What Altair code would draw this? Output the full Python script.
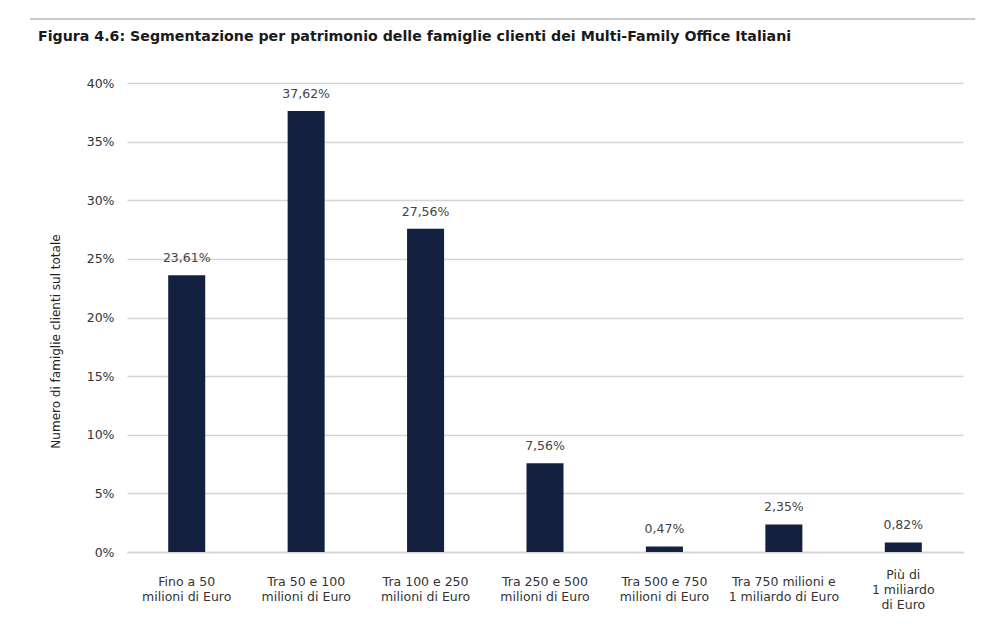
import altair as alt
import pandas as pd

categories = [
    "Fino a 50|milioni di Euro",
    "Tra 50 e 100|milioni di Euro",
    "Tra 100 e 250|milioni di Euro",
    "Tra 250 e 500|milioni di Euro",
    "Tra 500 e 750|milioni di Euro",
    "Tra 750 milioni e|1 miliardo di Euro",
    "Più di|1 miliardo|di Euro",
]
values = [23.61, 37.62, 27.56, 7.56, 0.47, 2.35, 0.82]
y_ticks = [0, 5, 10, 15, 20, 25, 30, 35, 40]

title_text = "Figura 4.6: Segmentazione per patrimonio delle famiglie clienti dei Multi-Family Office Italiani"
y_title = "Numero di famiglie clienti sul totale"

df = pd.DataFrame({
    "cat": categories,
    "val": values,
    "lab": [f"{v:.2f}".replace(".", ",") + "%" for v in values],
})

FONT = "DejaVu Sans"
TXT = "#333333"

x_enc = alt.X(
    "cat:N", sort=None, title=None,
    scale=alt.Scale(paddingInner=0.69, paddingOuter=0.345),
    axis=alt.Axis(
        labelExpr="split(datum.label, '|')", labelAngle=0, ticks=False,
        domain=True, domainColor="#d4d4d4", domainWidth=1.5,
        labelFont=FONT, labelFontSize=12.5, labelColor=TXT,
        labelBaseline={"condition": {"test": "datum.value == '" + categories[6] + "'", "value": "bottom"},
                       "value": "middle"},
        labelPadding=29, labelLineHeight=15,
        labelLimit=200,
    ),
)
y_enc = alt.Y(
    "val:Q", title=y_title,
    scale=alt.Scale(domain=[0, 40], nice=False),
    axis=alt.Axis(
        values=y_ticks, labelExpr="datum.value + '%'", ticks=False, domain=False,
        grid=True, gridColor="#d4d4d4", gridWidth=1.5,
        labelFont=FONT, labelFontSize=12.5, labelColor=TXT, labelPadding=13,
        titleFont=FONT, titleFontSize=12, titleFontWeight="normal", titleColor="#222222",
        titleX=-72, titleY=258, titleAlign="center", titleBaseline="middle", titleAngle=270,
    ),
)

bars = alt.Chart(df).mark_bar(color="#13203f").encode(x=x_enc, y=y_enc)
texts = alt.Chart(df).mark_text(
    baseline="bottom", dy=-10, font=FONT, fontSize=12.5, color="#444444"
).encode(x=alt.X("cat:N", sort=None), y="val:Q", text="lab:N")

meta = pd.DataFrame({"title": [title_text]})
top_rule = alt.Chart(meta).mark_rule(
    color="#9a9a9a", strokeWidth=1.2
).encode(x=alt.value(-97), x2=alt.value(848), y=alt.value(-64))
title_mark = alt.Chart(meta).mark_text(
    align="left", baseline="middle", font=FONT, fontSize=14.2, fontWeight="bold", color="#1a1a1a"
).encode(x=alt.value(-89), y=alt.value(-46), text="title:N")

chart = alt.layer(bars, texts, top_rule, title_mark).properties(
    width=836, height=469,
    background="white",
    padding={"left": 119, "top": 75, "right": 17, "bottom": 70},
    autosize=alt.AutoSizeParams(type="none"),
).configure_view(strokeWidth=0)

chart.save("out.html", embed_options={"renderer": "svg", "actions": False})
